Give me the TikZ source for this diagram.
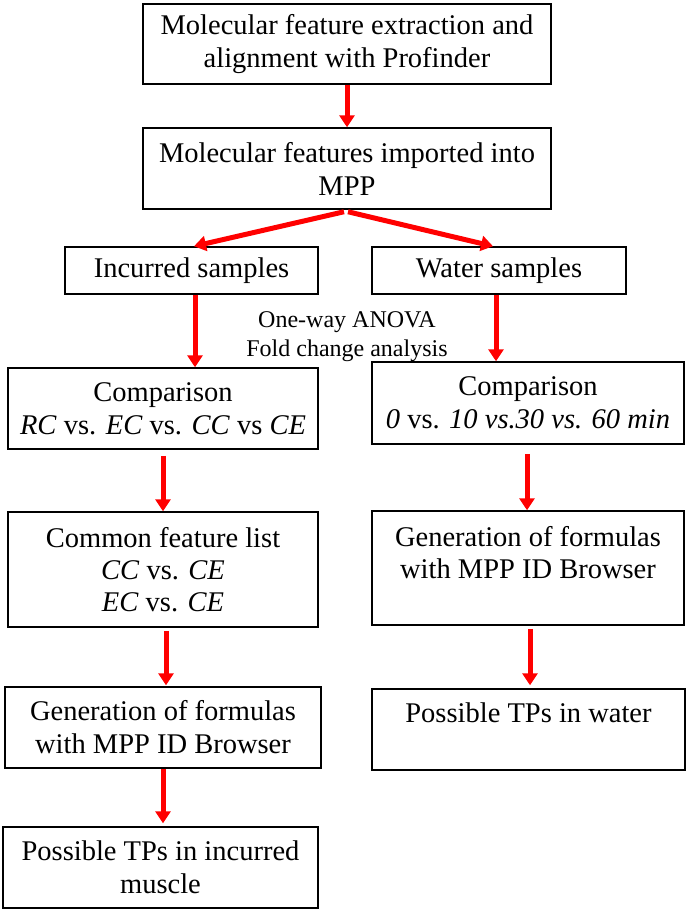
\documentclass[tikz,border=0pt]{standalone}
\usepackage{fontspec}
\setmainfont{Liberation Serif}
\usetikzlibrary{arrows.meta}
\begin{document}
\begin{tikzpicture}[x=1pt,y=-1pt,
  box/.style={draw=black,line width=1.5pt,rectangle,inner sep=0pt,align=center,
    font=\fontsize{28.5}{33}\selectfont},
  arr/.style={draw=red,line width=5pt,-{Triangle[width=15pt,length=12pt]}},
  note/.style={align=center,font=\fontsize{24}{29}\selectfont}]
\useasboundingbox (0,0) rectangle (688,911);
\node[box,minimum width=408pt,minimum height=80pt] (b1) at (347,44)
  {Molecular feature extraction and\\alignment with Profinder};
\node[box,minimum width=408pt,minimum height=81pt] (b2) at (347,168.5)
  {Molecular features imported into\\MPP};
\node[box,minimum width=253pt,minimum height=47pt] (inc) at (191.5,270.5)
  {Incurred samples};
\node[box,minimum width=254pt,minimum height=47pt] (wat) at (499,270.5)
  {Water samples};
\node[note] (anova) at (347,337) {One-way ANOVA\\Fold change analysis};
\node[box,minimum width=310pt,minimum height=81pt] (cmpL) at (163,408.5)
  {Comparison\\\textit{RC} vs. \textit{EC} vs. \textit{CC} vs \textit{CE}};
\node[box,minimum width=312pt,minimum height=82pt] (cmpR) at (528,403)
  {Comparison\\\textit{0} vs. \textit{10 vs.30 vs. 60 min}};
\node[box,minimum width=310pt,minimum height=115pt,font=\fontsize{28.5}{32}\selectfont] (com) at (163,569.5)
  {Common feature list\\\textit{CC} vs. \textit{CE}\\\textit{EC} vs. \textit{CE}};
\node[box,minimum width=312pt,minimum height=114pt,font=\fontsize{28.5}{32}\selectfont] (genR) at (528,568)
  {Generation of formulas\\with MPP ID Browser\\\mbox{}};
\node[box,minimum width=316pt,minimum height=81pt] (genL) at (163,727.5)
  {Generation of formulas\\with MPP ID Browser};
\node[box,minimum width=313pt,minimum height=81pt] (tpR) at (528.5,729.5)
  {Possible TPs in water\\\mbox{}};
\node[box,minimum width=315pt,minimum height=81pt] (tpL) at (160.5,867.5)
  {Possible TPs in incurred\\muscle};
\draw[arr] (b1.south) -- (b2.north);
\draw[arr] ([xshift=-3pt,yshift=-2pt]b2.south) -- ([xshift=2.5pt]inc.north);
\draw[arr] ([xshift=1pt,yshift=-2pt]b2.south) -- ([xshift=-6pt]wat.north);
\draw[arr] ([xshift=3.5pt]inc.south) -- ([xshift=32pt]cmpL.north);
\draw[arr] ([xshift=-3pt]wat.south) -- ([xshift=-32pt]cmpR.north);
\draw[arr,shorten <=6pt] (cmpL.south) -- (com.north);
\draw[arr,shorten <=9pt] ([xshift=-1pt]cmpR.south) -- ([xshift=-1pt]genR.north);
\draw[arr,shorten <=3pt,shorten >=1pt] ([xshift=3pt]com.south) -- ([xshift=3pt]genL.north);
\draw[arr,shorten <=3pt,shorten >=3pt] ([xshift=2pt]genR.south) -- ([xshift=1.5pt]tpR.north);
\draw[arr,shorten >=3pt] (genL.south) -- ([xshift=2.5pt]tpL.north);
\end{tikzpicture}
\end{document}
